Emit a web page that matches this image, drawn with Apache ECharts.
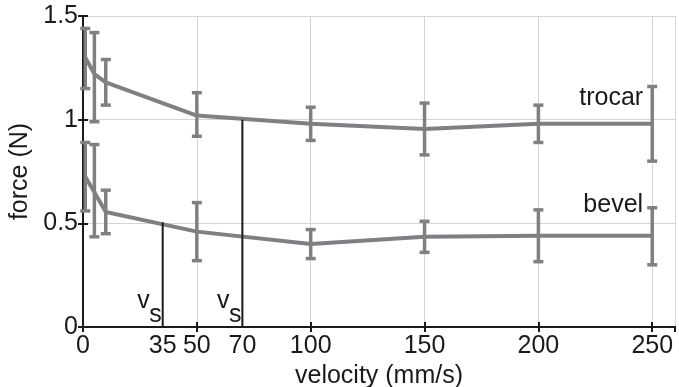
<!DOCTYPE html>
<html>
<head>
<meta charset="utf-8">
<script src="https://cdn.jsdelivr.net/npm/echarts@6/dist/echarts.min.js"></script>
<style>
  html, body { margin: 0; padding: 0; background: #fff; }
  #chart { width: 679px; height: 387px; }
</style>
</head>
<body>
<div id="chart"></div>
<script>
// velocities (mm/s)
const velocity = [1, 5, 10, 50, 100, 150, 200, 250];

// trocar force (N)
const trocarMean = [1.30, 1.22, 1.18, 1.02, 0.98, 0.955, 0.98, 0.98];
const trocarLow = [1.15, 0.99, 1.07, 0.92, 0.90, 0.83, 0.89, 0.80];
const trocarHigh = [1.44, 1.42, 1.29, 1.13, 1.06, 1.08, 1.07, 1.16];

// bevel force (N)
const bevelMean = [0.725, 0.65, 0.555, 0.46, 0.40, 0.435, 0.44, 0.44];
const bevelLow = [0.56, 0.435, 0.45, 0.32, 0.33, 0.36, 0.315, 0.30];
const bevelHigh = [0.89, 0.88, 0.66, 0.60, 0.47, 0.51, 0.565, 0.575];

// threshold velocities v_s and the force where they meet the curves
const vsVelocity = [35, 70];
const vsForce = [0.505, 1.0];

const lineColor = "#808084";
const textColor = "#1a1a1a";
const font = "Liberation Sans, Arial, sans-serif";

const chart = echarts.init(document.getElementById("chart"));

function errorBars(low, high) {
  return {
    type: "custom",
    data: velocity.map((v, i) => [v, low[i], high[i]]),
    renderItem: (params, api) => {
      const top = api.coord([api.value(0), api.value(2)]);
      const bot = api.coord([api.value(0), api.value(1)]);
      const w = 5;
      const style = { stroke: lineColor, lineWidth: 3.5 };
      return {
        type: "group",
        children: [
          { type: "line", shape: { x1: top[0], y1: top[1], x2: bot[0], y2: bot[1] }, style },
          { type: "line", shape: { x1: top[0] - w, y1: top[1], x2: top[0] + w, y2: top[1] }, style },
          { type: "line", shape: { x1: bot[0] - w, y1: bot[1], x2: bot[0] + w, y2: bot[1] }, style },
        ],
      };
    },
    z: 3,
  };
}

function meanLine(mean) {
  return {
    type: "line",
    data: velocity.map((v, i) => [v, mean[i]]),
    symbol: "none",
    lineStyle: { color: lineColor, width: 4 },
    z: 3,
  };
}

// invisible points that only carry a text label
function textSeries(data, label) {
  return {
    type: "scatter",
    symbolSize: 0,
    itemStyle: { opacity: 1 },
    data,
    label: Object.assign(
      { show: true, color: textColor, fontFamily: font, fontSize: 25, formatter: (p) => p.value[2] },
      label
    ),
    z: 5,
  };
}

const vsSeries = vsVelocity.map((v, i) => ({
  type: "line",
  data: [[v, 0], [v, vsForce[i]]],
  symbol: "none",
  lineStyle: { color: textColor, width: 2 },
  z: 4,
}));

chart.setOption({
  animation: false,
  grid: { left: 83, right: 4, top: 16, bottom: 60, outerBoundsMode: "none" },
  xAxis: [
    {
      type: "value",
      min: 0,
      max: 260,
      interval: 50,
      name: "velocity (mm/s)",
      nameLocation: "middle",
      nameGap: 33,
      nameTextStyle: { fontSize: 25, color: textColor, fontFamily: font },
      axisLine: { lineStyle: { color: textColor, width: 2 } },
      axisTick: { inside: true, length: 5, lineStyle: { color: textColor, width: 2 } },
      axisLabel: {
        fontSize: 25,
        color: textColor,
        fontFamily: font,
        margin: 7,
        showMaxLabel: false,
        formatter: (v) => (v > 250 ? "" : String(v)),
      },
      splitLine: { lineStyle: { color: "#d4d4d4", width: 1 } },
    },
    {
      type: "value",
      position: "top",
      min: 0,
      max: 260,
      interval: 50,
      axisLine: { lineStyle: { color: textColor, width: 2 } },
      axisTick: { inside: true, length: 5, lineStyle: { color: textColor, width: 2 } },
      axisLabel: { show: false },
      splitLine: { show: false },
    },
  ],
  yAxis: [
    {
      type: "value",
      min: 0,
      max: 1.5,
      interval: 0.5,
      name: "force (N)",
      nameLocation: "middle",
      nameGap: 38,
      nameTextStyle: { fontSize: 25, color: textColor, fontFamily: font },
      axisLine: { show: true, lineStyle: { color: textColor, width: 2 } },
      axisTick: { show: true, inside: true, length: 5, lineStyle: { color: textColor, width: 2 } },
      axisLabel: { fontSize: 25, color: textColor, fontFamily: font, margin: 5 },
      splitLine: { lineStyle: { color: "#d4d4d4", width: 1 } },
    },
    {
      type: "value",
      position: "right",
      min: 0,
      max: 1.5,
      interval: 0.5,
      axisLine: { show: true, lineStyle: { color: textColor, width: 2 } },
      axisTick: { show: true, inside: true, length: 5, lineStyle: { color: textColor, width: 2 } },
      axisLabel: { show: false },
      splitLine: { show: false },
    },
  ],
  series: [
    meanLine(trocarMean),
    errorBars(trocarLow, trocarHigh),
    meanLine(bevelMean),
    errorBars(bevelLow, bevelHigh),
    ...vsSeries,
    // extra tick labels at the v_s positions
    textSeries(vsVelocity.map((v) => [v, 0, String(v)]), { position: "bottom", distance: 7 }),
    // v_s labels: "v" and a lowered "s"
    textSeries(vsVelocity.map((v) => [v, 0.123, "v"]), { position: "left", distance: 13 }),
    textSeries(vsVelocity.map((v) => [v, 0.056, "s"]), { position: "left", distance: 1 }),
    // curve names
    textSeries([[246, 1.105, "trocar"], [246, 0.59, "bevel"]], { position: "left", distance: 0 }),
  ],
});
</script>
</body>
</html>
